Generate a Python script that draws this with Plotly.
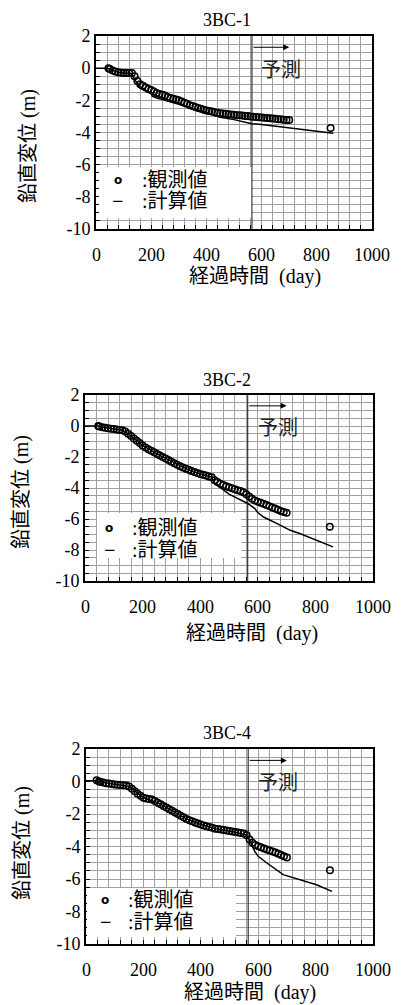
import plotly.graph_objects as go

# ---------------- data ----------------
PANEL_TITLES = ["3BC-1", "3BC-2", "3BC-4"]

obs1_day = [45, 50, 60, 70, 80, 90, 100, 110, 120, 130, 140, 150, 160, 170, 180, 190, 200,
            210, 220, 230, 240, 250, 260, 270, 280, 290, 300, 310, 320, 330, 340, 350, 360,
            370, 380, 390, 400, 410, 420, 430, 440, 450, 460, 470, 480, 490, 500, 510, 520,
            530, 540, 550, 560, 570, 580, 590, 600, 610, 620, 630, 640, 650, 660, 670, 680,
            690, 700, 850]
obs1_disp = [0.0, -0.05, -0.15, -0.2, -0.25, -0.28, -0.3, -0.3, -0.3, -0.3, -0.5, -0.8, -1.0,
             -1.1, -1.2, -1.3, -1.35, -1.45, -1.55, -1.6, -1.65, -1.7, -1.8, -1.85, -1.9, -1.95,
             -2.0, -2.08, -2.15, -2.22, -2.3, -2.35, -2.42, -2.48, -2.53, -2.58, -2.63, -2.67,
             -2.7, -2.74, -2.77, -2.8, -2.82, -2.84, -2.86, -2.88, -2.9, -2.92, -2.93, -2.95,
             -2.97, -2.98, -3.0, -3.02, -3.03, -3.05, -3.07, -3.08, -3.1, -3.12, -3.13, -3.15,
             -3.17, -3.18, -3.2, -3.22, -3.22, -3.72]
calc1_day = [0, 40, 50, 60, 80, 100, 120, 130, 140, 150, 160, 170, 180, 190, 200, 205, 220,
             250, 300, 350, 400, 430, 450, 500, 565, 600, 650, 700, 750, 800, 860]
calc1_disp = [0.0, 0.0, -0.08, -0.15, -0.25, -0.3, -0.32, -0.35, -0.7, -1.0, -1.25, -1.3, -1.4,
              -1.5, -1.6, -1.75, -1.85, -2.0, -2.25, -2.5, -2.75, -2.95, -3.05, -3.2, -3.45,
              -3.5, -3.6, -3.68, -3.8, -3.92, -4.05]

obs2_day = [46, 50, 60, 70, 80, 90, 100, 110, 120, 130, 140, 150, 160, 170, 180, 190, 200,
            210, 220, 230, 240, 250, 260, 270, 280, 290, 300, 310, 320, 330, 340, 350, 360,
            370, 380, 390, 400, 410, 420, 430, 440, 450, 460, 470, 480, 490, 500, 510, 520,
            530, 540, 550, 560, 570, 580, 590, 600, 610, 620, 630, 640, 650, 660, 670, 680,
            690, 700, 850]
obs2_disp = [0.0, -0.03, -0.08, -0.12, -0.15, -0.18, -0.2, -0.23, -0.26, -0.28, -0.35, -0.5,
             -0.65, -0.8, -0.95, -1.1, -1.25, -1.38, -1.5, -1.6, -1.7, -1.8, -1.9, -2.0, -2.1,
             -2.2, -2.3, -2.4, -2.5, -2.6, -2.68, -2.75, -2.82, -2.9, -2.97, -3.03, -3.1,
             -3.15, -3.2, -3.25, -3.3, -3.5, -3.62, -3.72, -3.8, -3.88, -3.95, -4.02, -4.08,
             -4.14, -4.2, -4.27, -4.4, -4.55, -4.7, -4.8, -4.88, -4.95, -5.02, -5.1, -5.17,
             -5.25, -5.32, -5.4, -5.48, -5.55, -5.6, -6.5]
calc2_day = [0, 45, 60, 80, 100, 130, 150, 200, 250, 300, 350, 400, 440, 450, 460, 500, 565,
             590, 598, 620, 667, 713, 748, 806, 861]
calc2_disp = [0.0, 0.0, -0.08, -0.15, -0.2, -0.28, -0.5, -1.25, -1.8, -2.3, -2.75, -3.1, -3.3,
              -3.7, -3.85, -4.4, -5.0, -5.33, -5.55, -5.87, -6.3, -6.73, -6.95, -7.38, -7.8]

obs3_day = [37, 45, 50, 60, 70, 80, 90, 100, 110, 120, 130, 140, 150, 160, 170, 180, 190, 200,
            210, 220, 230, 240, 250, 260, 270, 280, 290, 300, 310, 320, 330, 340, 350, 360,
            370, 380, 390, 400, 410, 420, 430, 440, 450, 460, 470, 480, 490, 500, 510, 520,
            530, 540, 550, 560, 570, 580, 590, 600, 610, 620, 630, 640, 650, 660, 670, 680,
            690, 700, 850]
obs3_disp = [0.08, 0.0, -0.02, -0.06, -0.1, -0.13, -0.15, -0.18, -0.2, -0.22, -0.23, -0.25,
             -0.3, -0.45, -0.6, -0.75, -0.88, -1.0, -1.05, -1.08, -1.1, -1.2, -1.3, -1.4, -1.5,
             -1.6, -1.7, -1.8, -1.9, -2.0, -2.1, -2.2, -2.3, -2.38, -2.45, -2.52, -2.58, -2.65,
             -2.7, -2.75, -2.8, -2.85, -2.9, -2.93, -2.96, -2.99, -3.02, -3.05, -3.08, -3.11,
             -3.14, -3.17, -3.2, -3.3, -3.57, -3.77, -3.9, -3.98, -4.05, -4.12, -4.18, -4.24,
             -4.3, -4.37, -4.44, -4.52, -4.6, -4.68, -5.46]
calc3_day = [0, 37, 60, 100, 150, 200, 250, 300, 350, 400, 450, 500, 560, 575, 588, 600, 629,
             687, 745, 803, 857]
calc3_disp = [0.05, 0.05, -0.06, -0.18, -0.3, -1.0, -1.3, -1.8, -2.3, -2.65, -2.9, -3.05, -3.3,
              -3.8, -4.3, -4.6, -5.0, -5.73, -6.04, -6.35, -6.76]

FORECAST_START_DAY = 565
FORECAST_ARROW_END_DAY = 700
FORECAST_ARROW_LEVEL = 1.3
FORECAST_LABEL = "予測"
OBS_LABEL = ":観測値"
CALC_LABEL = ":計算値"
X_TITLE = "経過時間\u00a0\u00a0(day)"
Y_TITLE = "鉛直変位 (m)"
X_TICKS = [0, 200, 400, 600, 800, 1000]
X_TICK_TEXT = ["0", "200", "400", "600", "800", "1000"]
Y_TICKS = [2, 0, -2, -4, -6, -8, -10]
Y_TICK_TEXT = ["2", "0", "-2", "-4", "-6", "-8", "-10"]

# ---------------- layout (pixels) ----------------
W, H = 406, 1005
FONT = "Liberation Serif, Noto Sans CJK JP, serif"
# plot box: left, right, top, bottom
BOXES = [(96, 372, 36, 229), (85, 373, 395, 581), (86, 373, 749, 944)]
TITLE_POS = [(227, 20), (227, 380), (227, 733)]
XTICK_Y = [255, 607, 970]
XTITLE_POS = [(255, 277), (252, 633), (250, 992)]
YTITLE_POS = [(29, 146), (22, 492), (22, 843)]
# legend box (l, r, t, b), circle x, colon x, row1 y, row2 y
LEGENDS = [((99, 252, 167, 218), 118, 140, 180, 201),
           ((97, 241, 513, 558), 109, 130, 528, 550),
           ((87, 236, 888, 937), 105, 126, 900, 922)]

series = [(obs1_day, obs1_disp, calc1_day, calc1_disp),
          (obs2_day, obs2_disp, calc2_day, calc2_disp),
          (obs3_day, obs3_disp, calc3_day, calc3_disp)]


def px(x):
    return x / W


def py(y):
    return 1 - y / H


def note(**kw):
    base = dict(showarrow=False, xanchor="center", yanchor="middle")
    base.update(kw)
    return base


fig = go.Figure()
annotations = []
shapes = []
layout = {}
FS_TICK = 18
FS_TEXT = 20

for i, (box, (od, ov, cd, cv)) in enumerate(zip(BOXES, series)):
    n = "" if i == 0 else str(i + 1)
    xa, ya = "x" + n, "y" + n
    l, r, t, b = box
    fig.add_trace(go.Scatter(x=cd, y=cv, mode="lines", xaxis=xa, yaxis=ya,
                             line=dict(color="black", width=1.5), showlegend=False,
                             name="計算値"))
    fig.add_trace(go.Scatter(x=od, y=ov, mode="markers", xaxis=xa, yaxis=ya,
                             marker=dict(symbol="circle-open", size=6.5, color="black",
                                         line=dict(color="black", width=1.5)),
                             showlegend=False, name="観測値"))
    grid = "#a0a0a0"
    layout["xaxis" + n] = dict(
        domain=[px(l), px(r)], anchor=ya, range=[0, 1000], tickmode="array",
        tickvals=X_TICKS, ticktext=["" for _ in X_TICKS], ticks="inside", ticklen=4,
        tickcolor="black", showgrid=True, gridcolor=grid, gridwidth=1,
        minor=dict(dtick=40, tick0=0, ticks="inside", ticklen=4, tickcolor="black",
                   showgrid=True, gridcolor=grid, gridwidth=1),
        showline=True, mirror=True, linecolor="black", linewidth=2, zeroline=False,
        automargin=False, fixedrange=True)
    layout["yaxis" + n] = dict(
        domain=[py(b), py(t)], anchor=xa, range=[-10, 2], tickmode="array",
        tickvals=Y_TICKS, ticktext=Y_TICK_TEXT, ticks="inside", ticklen=4,
        tickcolor="black", showgrid=True, gridcolor=grid, gridwidth=1,
        minor=dict(dtick=0.5, tick0=0, ticks="inside", ticklen=4, tickcolor="black",
                   showgrid=True, gridcolor=grid, gridwidth=1),
        showline=True, mirror=True, linecolor="black", linewidth=2, zeroline=False,
        tickfont=dict(family=FONT, size=FS_TICK, color="black"),
        automargin=False, fixedrange=True)

    # x tick labels placed below the axis at the tick values
    for tv, tt in zip(X_TICKS, X_TICK_TEXT):
        annotations.append(note(xref=xa, yref="paper", x=tv, y=py(XTICK_Y[i]), text=tt,
                                font=dict(family=FONT, size=FS_TICK, color="black")))

    # legend box
    (ll, lr, lt, lb), cx, colx, r1, r2 = LEGENDS[i]
    shapes.append(dict(type="rect", xref="paper", yref="paper",
                       x0=px(ll), x1=px(lr), y0=py(lb), y1=py(lt),
                       fillcolor="white", line=dict(width=0), layer="above"))
    # forecast boundary line
    shapes.append(dict(type="line", xref=xa, yref=ya, x0=FORECAST_START_DAY,
                       x1=FORECAST_START_DAY, y0=-10, y1=2,
                       line=dict(color="#111", width=1), layer="above"))
    # forecast arrow and label
    annotations.append(dict(xref=xa, yref=ya, x=FORECAST_ARROW_END_DAY, y=FORECAST_ARROW_LEVEL,
                            axref=xa, ayref=ya, ax=FORECAST_START_DAY, ay=FORECAST_ARROW_LEVEL,
                            showarrow=True, arrowhead=2, arrowsize=1.2, arrowwidth=1,
                            arrowcolor="black", text=""))
    annotations.append(note(xref=xa, yref=ya, x=670, y=-0.1, text=FORECAST_LABEL,
                            font=dict(family=FONT, size=FS_TEXT, color="#222")))

    annotations.append(note(xref="paper", yref="paper", x=px(cx), y=py(r1), text="<b>o</b>",
                            font=dict(family="DejaVu Sans", size=12, color="black")))
    annotations.append(note(xref="paper", yref="paper", x=px(cx), y=py(r2), text="<b>−</b>",
                            font=dict(family=FONT, size=FS_TEXT, color="black")))
    annotations.append(note(xref="paper", yref="paper", x=px(colx), y=py(r1), text=OBS_LABEL,
                            xanchor="left",
                            font=dict(family=FONT, size=FS_TEXT, color="black")))
    annotations.append(note(xref="paper", yref="paper", x=px(colx), y=py(r2), text=CALC_LABEL,
                            xanchor="left",
                            font=dict(family=FONT, size=FS_TEXT, color="black")))

    # titles
    tx, ty = TITLE_POS[i]
    annotations.append(note(xref="paper", yref="paper", x=px(tx), y=py(ty), text=PANEL_TITLES[i],
                            font=dict(family=FONT, size=FS_TICK, color="black")))
    xx, xy = XTITLE_POS[i]
    annotations.append(note(xref="paper", yref="paper", x=px(xx), y=py(xy), text=X_TITLE,
                            font=dict(family=FONT, size=FS_TEXT, color="black")))
    yx, yy = YTITLE_POS[i]
    annotations.append(note(xref="paper", yref="paper", x=px(yx), y=py(yy), text=Y_TITLE,
                            textangle=-90,
                            font=dict(family=FONT, size=FS_TEXT, color="black")))

fig.update_layout(width=W, height=H, margin=dict(l=0, r=0, t=0, b=0, autoexpand=False),
                  paper_bgcolor="white", plot_bgcolor="white", showlegend=False,
                  annotations=annotations, shapes=shapes, **layout)
fig.write_html("out.html")
